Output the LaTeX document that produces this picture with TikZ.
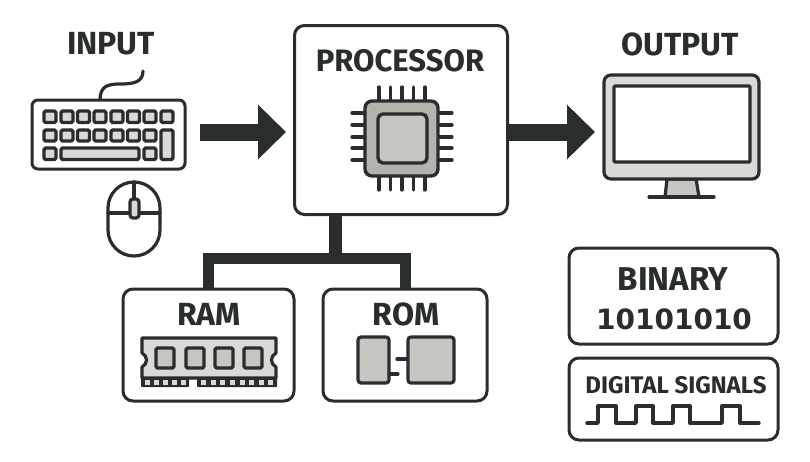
\documentclass[tikz,border=0pt]{standalone}
\usepackage{fontspec}
\setmainfont{Fira Sans}
\newfontfamily\digitfont{DejaVu Sans}
\usetikzlibrary{arrows.meta}
\definecolor{ink}{HTML}{2A2D2E}
\definecolor{shell}{HTML}{DAD9D5}
\definecolor{silicon}{HTML}{B4B3AD}
\definecolor{die}{HTML}{C6C5C0}

\begin{document}
\begin{tikzpicture}[x=1pt,y=-1pt,
	panel/.style={draw=ink,line width=3pt,rounded corners=10pt,fill=white,outer sep=0pt,inner sep=0pt},
	heading/.style={text=ink,font=\bfseries\fontsize{32}{34}\selectfont,inner sep=0pt},
	icon/.style={draw=ink,line width=3.2pt,line join=round,line cap=round},
	keycap/.style={icon,fill=shell,rounded corners=1.5pt,line width=3.4pt},
	bus/.style={draw=ink,line width=11pt},
	flow/.style={draw=ink,line width=17pt,-{Triangle[width=53pt,length=28pt]}}]
\useasboundingbox (0,0) rectangle (810,461);

\node[panel,minimum width=213pt,minimum height=189pt] (processor) at (401,120) {};
\node[panel,minimum width=171pt,minimum height=112pt] (ram) at (208.5,345) {};
\node[panel,minimum width=164pt,minimum height=112pt] (rom) at (405,345) {};
\node[panel,minimum width=209pt,minimum height=96pt] (binary) at (673.5,296) {};
\node[panel,minimum width=209pt,minimum height=82pt] (signals) at (673.5,399) {};

\node[heading] (inputlabel) at (111,44) {INPUT};
\node[heading,font=\bfseries\fontsize{31}{34}\selectfont] (processorlabel) at (400,61) {PROCESSOR};
\node[heading] (outputlabel) at (680,44) {OUTPUT};
\node[heading] (ramlabel) at (209,314) {RAM};
\node[heading] (romlabel) at (406,314) {ROM};
\node[heading,font=\bfseries\fontsize{33}{34}\selectfont] (binarylabel) at (673,279) {BINARY};
\node[heading,font=\digitfont\bfseries\fontsize{28}{30}\selectfont] (bitslabel) at (674,319) {10101010};
\node[heading,font=\bfseries\fontsize{24}{26}\selectfont] (signalslabel) at (676,385) {DIGITAL SIGNALS};

\coordinate (inputtail) at (200,132);
\coordinate (inputtip) at (286,132);
\coordinate (outputtip) at (595,132);
\coordinate (busjoint) at (335.5,258);
\draw[flow] (inputtail) -- (inputtip);
\draw[flow] (processor.east |- outputtip) -- (outputtip);
\draw[bus,line width=13pt] (processor.south -| busjoint) -- (busjoint);
\draw[bus] (ram.north) |- (busjoint) -| (rom.north);

% keyboard
\draw[icon] (100,100) .. controls (100,86) and (108,84) .. (120,84) .. controls (134,84) and (143,82) .. (143,71);
\draw[icon,line width=3pt,fill=white,rounded corners=6pt] (32,100) rectangle (185,169);
\foreach \keyx in {44,61,77.5,94,111,127.5,144,161} \draw[keycap] (\keyx,111) rectangle +(12,11.5);
\foreach \keyx in {44,61,77.5,94,111,127.5,144} \draw[keycap] (\keyx,130) rectangle +(12,11);
\draw[keycap] (44,148) rectangle +(12,11.5);
\draw[keycap] (61,148) rectangle (139,159.5);
\draw[keycap] (144,148) rectangle +(12,11.5);
\draw[keycap] (161,130) rectangle (173,159.5);

% mouse
\draw[icon,rounded corners=26pt] (108,182) rectangle (160,256);
\draw[icon] (108,213) -- (160,213);
\draw[icon] (134,182) -- (134,200);
\draw[icon,fill=shell,rounded corners=3pt] (130,199) rectangle (139,218);

% chip
\foreach \pinx in {379,390.5,402,413.5,425} {
	\draw[icon] (\pinx,87) -- (\pinx,101);
	\draw[icon] (\pinx,176) -- (\pinx,190);
}
\foreach \piny in {113,125,137,148,160} {
	\draw[icon] (352,\piny) -- (365,\piny);
	\draw[icon] (438,\piny) -- (452,\piny);
}
\draw[icon,line width=3.4pt,fill=silicon,rounded corners=7pt] (365,101) rectangle (438,176);
\draw[icon,line width=3.4pt,fill=die,rounded corners=5pt] (378,114) rectangle (427,163);

% monitor
\draw[icon,fill=die] (667,179) -- (696,179) -- (699,197) -- (665,197) -- cycle;
\draw[icon] (649,197) -- (714,197);
\draw[icon,fill=shell,rounded corners=7pt] (604,75) rectangle (759,179);
\draw[icon,fill=white,rounded corners=1pt] (614,86) rectangle (750,162);

% memory stick
\draw[icon,fill=shell] (142,338) -- (276,338) -- (276,353) .. controls (270,356) and (270,364) .. (276,367) -- (276,378) -- (142,378) -- (142,367) .. controls (148,364) and (148,356) .. (142,353) -- cycle;
\foreach \chipx in {156,186,215,244} \draw[keycap,fill=die] (\chipx,348) rectangle +(18,20);
\fill[ink,rounded corners=1pt] (141,377) rectangle (189,387);
\fill[ink,rounded corners=1pt] (197,377) rectangle (277,387);
\foreach \padx in {145,154,163,172,181} \fill[shell] (\padx,379.5) rectangle +(5,5);
\foreach \padx in {201,211,220,230,240,249,259,268} \fill[shell] (\padx,379.5) rectangle +(5,5);

% rom parts
\draw[icon,fill=die,rounded corners=3pt] (358,337) rectangle (389,383);
\draw[icon,fill=die,rounded corners=3pt] (408,337) rectangle (454,383);
\draw[icon] (397,359) -- (407,359);
\draw[icon] (389,374) -- (398,374);

% square wave
\draw[icon,line width=3.4pt] (587,423) -- (598,423) -- (598,406) -- (616,406) -- (616,423) -- (636,423) -- (636,406) -- (653,406) -- (653,423) -- (673,423) -- (673,406) -- (690,406) -- (690,423) -- (722,423) -- (722,406) -- (740,406) -- (740,423) -- (759,423);
\end{tikzpicture}
\end{document}
